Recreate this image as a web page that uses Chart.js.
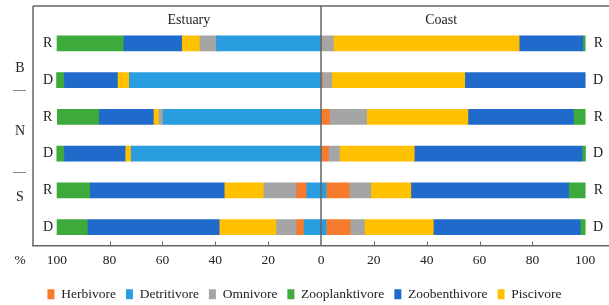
<!DOCTYPE html>
<html>
<head>
<meta charset="utf-8">
<script src="https://cdn.jsdelivr.net/npm/chart.js@4.4.1/dist/chart.umd.min.js"></script>
<style>
  html, body { margin: 0; padding: 0; background: #fff; overflow: hidden; }
  #wrap { width: 609px; height: 311px; }
</style>
</head>
<body>
<div id="wrap"><canvas id="guildChart"></canvas></div>
<script>
// rows, top to bottom: site + treatment
const sites = ['B', 'N', 'S'];
const treatments = ['R', 'D'];
const categories = ['B R', 'B D', 'N R', 'N D', 'S R', 'S D'];
const xTickValues = [-100, -80, -60, -40, -20, 0, 20, 40, 60, 80, 100];

// legend order
const guilds = ['Herbivore', 'Detritivore', 'Omnivore', 'Zooplanktivore', 'Zoobenthivore', 'Piscivore'];
// stacking position counted outward from 0
const stackPos = [1, 0, 2, 5, 4, 3];
const guildColors = ['#F77B2C', '#2A9DE0', '#A5A5A5', '#3DAA3B', '#1F6ACB', '#FFC000'];

// % composition, Estuary (drawn to the left)
const estHerbivore      = [0, 0, 0, 0, 3.8, 2.8];
const estDetritivore    = [39.5, 72.5, 59.7, 71.8, 5.4, 6.4];
const estOmnivore       = [6.3, 0, 1.6, 0, 12.4, 7.6];
const estZooplanktivore = [25.3, 2.9, 15.9, 2.9, 12.6, 11.7];
const estZoobenthivore  = [22.1, 20.3, 20.7, 23.2, 50.9, 49.9];
const estPiscivore      = [6.7, 4.3, 1.9, 2.1, 14.8, 21.5];

// % composition, Coast (drawn to the right)
const coastHerbivore      = [0.3, 0.5, 3.2, 2.8, 8.8, 9.1];
const coastDetritivore    = [0, 0, 0, 0, 1.9, 1.9];
const coastOmnivore       = [4.4, 3.5, 14.1, 4.2, 8.1, 5.4];
const coastZooplanktivore = [0.9, 0, 4.4, 1.3, 6.3, 1.9];
const coastZoobenthivore  = [24.1, 45.6, 40, 63.5, 59.7, 55.6];
const coastPiscivore      = [70.3, 50.4, 38.3, 28.3, 15.2, 26.1];

const estuary = [estHerbivore, estDetritivore, estOmnivore, estZooplanktivore, estZoobenthivore, estPiscivore];
const coast = [coastHerbivore, coastDetritivore, coastOmnivore, coastZooplanktivore, coastZoobenthivore, coastPiscivore];

const SERIF = '"Liberation Serif", "Times New Roman", serif';
const LINE = '#666';
const TEXT = '#222';

const datasets = [];
guilds.forEach((g, i) => {
  datasets.push({
    label: g,
    data: estuary[i].map(v => -v),
    backgroundColor: guildColors[i],
    order: stackPos[i],
    barThickness: 15,
    stack: 'all',
  });
});
guilds.forEach((g, i) => {
  datasets.push({
    label: g + ' (coast)',
    data: coast[i],
    backgroundColor: guildColors[i],
    order: stackPos[i],
    barThickness: 15,
    stack: 'all',
  });
});

// frame, centre line, panel titles and row labels
const decorations = {
  id: 'decorations',
  afterDraw(chart) {
    const { ctx, chartArea: a, scales: { x, y } } = chart;
    const frameTop = a.top - 19;
    const zero = x.getPixelForValue(0);
    ctx.save();
    ctx.strokeStyle = LINE;
    ctx.lineWidth = 1.5;
    ctx.beginPath();
    ctx.moveTo(a.left, frameTop); ctx.lineTo(a.right, frameTop);
    ctx.moveTo(a.left, frameTop); ctx.lineTo(a.left, a.bottom);
    ctx.moveTo(zero, frameTop); ctx.lineTo(zero, a.bottom);
    ctx.stroke();

    // small inward tick marks
    ctx.lineWidth = 1;
    ctx.beginPath();
    xTickValues.forEach(v => {
      if (v === 0 || Math.abs(v) === 100) return;
      const px = Math.round(x.getPixelForValue(v)) + 0.5;
      ctx.moveTo(px, a.bottom); ctx.lineTo(px, a.bottom - 4);
    });
    ctx.stroke();

    ctx.fillStyle = TEXT;
    ctx.textBaseline = 'middle';
    ctx.font = '14px ' + SERIF;
    ctx.textAlign = 'center';
    ctx.fillText('Estuary', x.getPixelForValue(-50), frameTop + 14);
    ctx.fillText('Coast', x.getPixelForValue(45.5), frameTop + 14);

    // R / D on both sides
    categories.forEach((c, i) => {
      const t = c.split(' ')[1];
      const py = y.getPixelForValue(i);
      ctx.textAlign = 'left';
      ctx.fillText(t, a.left + 10, py);
      ctx.textAlign = 'right';
      ctx.fillText(t, a.right - 6, py);
    });

    // site letters with dashes between them
    const sitePos = [0.67, 2.38, 4.2];
    const dashPos = [1.27, 3.49];
    ctx.textAlign = 'center';
    sites.forEach((s, i) => ctx.fillText(s, 20, y.getPixelForValue(sitePos[i])));
    ctx.strokeStyle = '#888';
    ctx.beginPath();
    dashPos.forEach(d => {
      const py = Math.round(y.getPixelForValue(d)) + 0.5;
      ctx.moveTo(13, py); ctx.lineTo(26, py);
    });
    ctx.stroke();

    ctx.font = '13.5px ' + SERIF;
    ctx.fillText('%', 20, a.bottom + 15);
    ctx.restore();
  },
};

new Chart(document.getElementById('guildChart'), {
  type: 'bar',
  data: { labels: categories, datasets },
  plugins: [decorations],
  options: {
    indexAxis: 'y',
    responsive: true,
    maintainAspectRatio: false,
    animation: false,
    layout: { padding: { left: 0, top: 25, right: 0, bottom: 0 } },
    plugins: {
      tooltip: { enabled: false },
      legend: {
        position: 'bottom',
        labels: {
          color: TEXT,
          font: { family: SERIF, size: 13.5 },
          boxWidth: 7,
          boxHeight: 10,
          padding: 10,
          filter: (item) => item.datasetIndex < guilds.length,
          sort: (a, b) => a.datasetIndex - b.datasetIndex,
        },
      },
    },
    scales: {
      x: {
        stacked: true,
        min: -109,
        max: 109,
        afterBuildTicks: (s) => { s.ticks = xTickValues.map(v => ({ value: v })); },
        afterFit: (s) => { s.height = 32; },
        grid: { display: false, drawTicks: false },
        border: { display: true, color: LINE, width: 1.5 },
        ticks: {
          color: TEXT,
          padding: 7,
          font: { family: SERIF, size: 13.5 },
          callback: (v) => Math.abs(v),
        },
      },
      y: {
        stacked: true,
        afterFit: (s) => { s.width = 33; },
        grid: { display: false, drawTicks: false },
        border: { display: false },
        ticks: { display: false },
      },
    },
  },
});
</script>
</body>
</html>
